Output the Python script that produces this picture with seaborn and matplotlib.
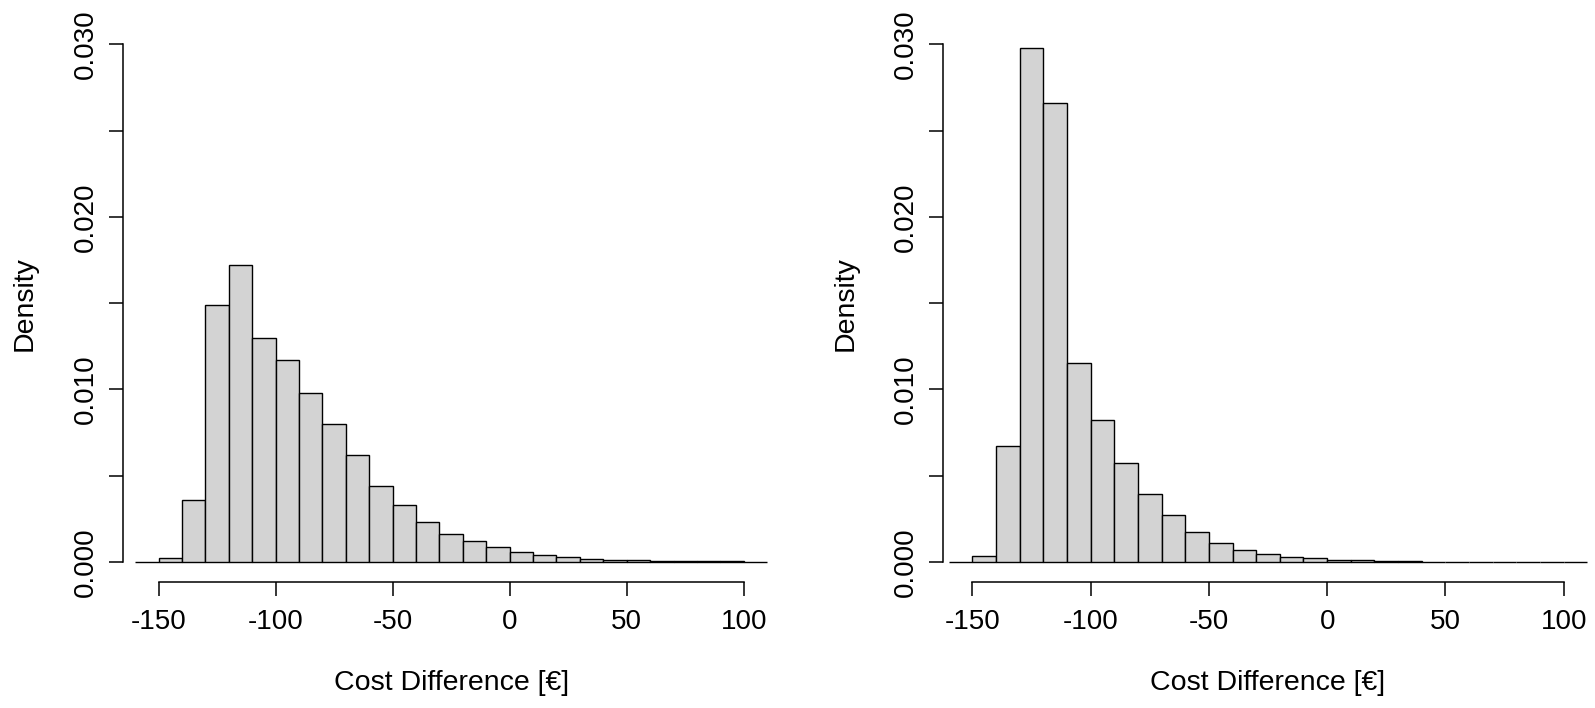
import numpy as np
import matplotlib
matplotlib.use('Agg')
import matplotlib.pyplot as plt
import matplotlib.transforms as mtransforms
import seaborn as sns

sns.set_style('ticks')
plt.rcParams['font.family'] = ['Liberation Sans', 'DejaVu Sans']

# bin edges used in both panels (width 10)
bin_edges = list(range(-160, 120, 10))

# density per bin, left panel
dens_left = [0.0, 0.0002, 0.0036, 0.0149, 0.0172, 0.0130, 0.0117, 0.0098,
             0.0080, 0.0062, 0.0044, 0.0033, 0.0023, 0.0016, 0.0012, 0.00087,
             0.00054, 0.00039, 0.00025, 0.00017, 0.00012, 0.00008, 0.00006,
             0.00004, 0.00003, 0.00002, 0.00001]

# density per bin, right panel
dens_right = [0.0, 0.00035, 0.0067, 0.0298, 0.0266, 0.0115, 0.0082, 0.0057,
              0.0039, 0.0027, 0.0017, 0.0011, 0.0007, 0.00042, 0.00029, 0.00019,
              0.00012, 0.00008, 0.00005, 0.00003, 0.0, 0.0, 0.0,
              0.0, 0.0, 0.0, 0.0]

x_ticks = [-150, -100, -50, 0, 50, 100]
y_ticks = [0.0, 0.005, 0.010, 0.015, 0.020, 0.025, 0.030]
y_tick_labels = ['0.000', '', '0.010', '', '0.020', '', '0.030']
x_label = 'Cost Difference [€]'
y_label = 'Density'

W, H = 1595, 708
fig = plt.figure(figsize=(W / 100, H / 100), dpi=100)

ax_bottom_px = 582.4
ax_height_px = 558.6


def draw_panel(dens, left_px, width_px, xlim):
    ax = fig.add_axes([left_px / W, (H - ax_bottom_px) / H,
                       width_px / W, ax_height_px / H])
    centers = [e + 5 for e in bin_edges[:-1]]
    sns.histplot(x=centers, weights=dens, bins=bin_edges, stat='count',
                 color='#D3D3D3', edgecolor='black', linewidth=1.0,
                 alpha=1, ax=ax)
    ax.set_xlim(*xlim)
    ax.set_ylim(-0.0012, 0.0312)
    sns.despine(ax=ax)
    ax.spines['left'].set_bounds(0, 0.03)
    ax.spines['bottom'].set_bounds(-150, 100)
    for s in ('left', 'bottom'):
        ax.spines[s].set_linewidth(1.1)
        ax.spines[s].set_color('black')
    ax.set_xticks(x_ticks)
    ax.set_xticklabels([str(t) for t in x_ticks])
    ax.set_yticks(y_ticks)
    ax.set_yticklabels(y_tick_labels)
    ax.tick_params(axis='both', length=10, width=1.1, color='black',
                   labelsize=20, labelcolor='black')
    ax.tick_params(axis='x', pad=9.5)
    ax.tick_params(axis='y', pad=7.5, labelrotation=90)
    for lab in ax.get_yticklabels():
        lab.set_va('center')
    ax.set_xlabel(x_label, fontsize=20.5, color='black')
    ax.set_ylabel(y_label, fontsize=20.5, color='black')
    trans = mtransforms.blended_transform_factory(ax.transData, ax.transAxes)
    ax.xaxis.set_label_coords(-25, -0.180, transform=trans)
    ax.xaxis.label.set_va('center')
    ax.yaxis.set_label_coords(-97.7 / width_px, 0.5)
    ax.yaxis.label.set_va('center')
    return ax


draw_panel(dens_left, 122.7, 656.9, (-165.3, 115.3))
draw_panel(dens_right, 943.4, 649.2, (-162.2, 112.2))

fig.savefig('out.png', dpi=100, facecolor='white')
